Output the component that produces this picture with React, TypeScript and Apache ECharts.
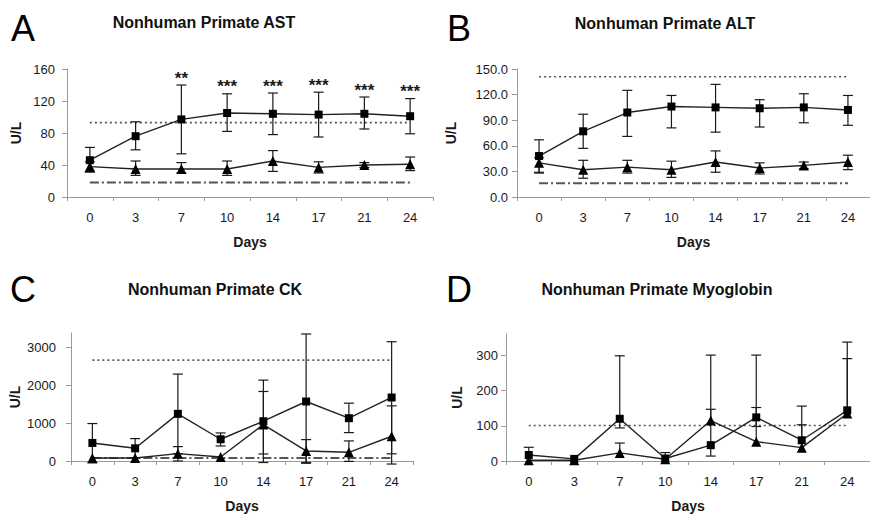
import React, { useEffect, useRef } from "react";
import * as echarts from "echarts";

// ---------- data ----------
const days = ["0", "3", "7", "10", "14", "17", "21", "24"];

// A: AST
const astSq = [46, 76, 97, 105, 104, 103, 104, 101];
const astSqHi = [62, 94, 140, 129, 130, 131, 125, 123];
const astSqLo = [31, 59, 54, 82, 78, 75, 85, 79];
const astTri = [38, 35, 35, 35, 45, 37, 40, 41];
const astTriHi = [44, 45, 43, 45, 58, 44, 43, 50];
const astTriLo = [32, 27, 30, 27, 32, 30, 37, 33];
const astStars = ["", "", "**", "***", "***", "***", "***", "***"];
const astRefHigh = 93;
const astRefLow = 18;

// B: ALT
const altSq = [48, 77, 99, 106, 105, 104, 105, 102];
const altSqHi = [67, 97, 125, 119, 132, 114, 121, 119];
const altSqLo = [29, 57, 71, 81, 76, 82, 87, 84];
const altTri = [40, 32, 35, 32, 41, 34, 37, 41];
const altTriHi = [46, 43, 43, 42, 54, 40, 41, 49];
const altTriLo = [28, 22, 28, 23, 29, 27, 33, 32];
const altRefHigh = 141;
const altRefLow = 16;

// C: CK
const ckSq = [477, 335, 1245, 574, 1050, 1571, 1130, 1677];
const ckSqHi = [989, 591, 2295, 741, 2136, 3354, 1527, 3150];
const ckSqLo = [-50, 80, 195, 397, -40, -60, 750, 190];
const ckTri = [80, 80, 194, 106, 962, 265, 230, 653];
const ckTriHi = [80, 80, 380, 106, 1836, 565, 530, 1456];
const ckTriLo = [80, 80, 0, 106, 185, -40, -10, -80];
const ckRefHigh = 2665;
const ckRefLow = 80;

// D: Myoglobin
const myoSq = [17, 6, 120, 7, 45, 124, 59, 144];
const myoSqHi = [39, 6, 299, 24, 147, 301, 156, 338];
const myoSqLo = [17, 6, 94, 7, 14, 98, 59, 144];
const myoTri = [2, 2, 23, 5, 115, 55, 38, 135];
const myoTriHi = [2, 2, 51, 5, 301, 152, 103, 291];
const myoTriLo = [2, 2, 23, 5, 115, 55, 38, 135];
const myoRefHigh = 101;

const FONT = "'Liberation Sans', Arial, Helvetica, sans-serif";
const INK = "#1a1a1a";
const AXIS = "#9a9a9a";

type Panel = {
  grid: { left: number; top: number; width: number; height: number };
  yMax: number;
  yInterval?: number;
  yCustom?: number[];
  yFmt?: (v: number) => string;
  labelMargin: number;
  nameGap: number;
  sq: number[];
  sqHi: number[];
  sqLo: number[];
  tri: number[];
  triHi: number[];
  triLo: number[];
  refHigh?: number;
  refLow?: number;
  stars?: string[];
};

const panels: Panel[] = [
  {
    grid: { left: 67, top: 69, width: 366, height: 128 },
    yMax: 160,
    yInterval: 40,
    labelMargin: 12,
    nameGap: 44,
    sq: astSq, sqHi: astSqHi, sqLo: astSqLo,
    tri: astTri, triHi: astTriHi, triLo: astTriLo,
    refHigh: astRefHigh, refLow: astRefLow, stars: astStars,
  },
  {
    grid: { left: 517, top: 69, width: 353, height: 128 },
    yMax: 150,
    yInterval: 30,
    yFmt: (v) => v.toFixed(1),
    labelMargin: 9,
    nameGap: 59,
    sq: altSq, sqHi: altSqHi, sqLo: altSqLo,
    tri: altTri, triHi: altTriHi, triLo: altTriLo,
    refHigh: altRefHigh, refLow: altRefLow,
  },
  {
    grid: { left: 71, top: 333, width: 342, height: 128 },
    yMax: 3380,
    yCustom: [0, 1000, 2000, 3000],
    labelMargin: 15,
    nameGap: 49,
    sq: ckSq, sqHi: ckSqHi, sqLo: ckSqLo,
    tri: ckTri, triHi: ckTriHi, triLo: ckTriLo,
    refHigh: ckRefHigh, refLow: ckRefLow,
  },
  {
    grid: { left: 506, top: 334, width: 364, height: 129 },
    yMax: 361,
    yCustom: [0, 100, 200, 300],
    labelMargin: 8,
    nameGap: 42,
    sq: myoSq, sqHi: myoSqHi, sqLo: myoSqLo,
    tri: myoTri, triHi: myoTriHi, triLo: myoTriLo,
    refHigh: myoRefHigh,
  },
];

const titles = [
  { letter: "A", lx: 23, ly: 28, text: "Nonhuman Primate AST", tx: 204, ty: 22 },
  { letter: "B", lx: 459, ly: 28, text: "Nonhuman Primate ALT", tx: 665, ty: 23 },
  { letter: "C", lx: 23, ly: 289, text: "Nonhuman Primate CK", tx: 215, ty: 289 },
  { letter: "D", lx: 459, ly: 289, text: "Nonhuman Primate Myoglobin", tx: 657, ty: 289 },
];

function errorSeries(pi: number, vals: number[], hi: number[], lo: number[], stars?: string[]) {
  return {
    type: "custom",
    xAxisIndex: pi,
    yAxisIndex: pi,
    z: 2,
    clip: false,
    silent: true,
    data: vals.map((v, i) => [i, v, lo[i], hi[i]]),
    renderItem: (params: any, api: any) => {
      const x = api.value(0);
      const v = api.value(1);
      const l = api.value(2);
      const h = api.value(3);
      const pv = api.coord([x, v]);
      const ph = api.coord([x, h]);
      const pl = api.coord([x, l]);
      const cap = 5;
      const st = { stroke: INK, lineWidth: 1.2 };
      const children: any[] = [];
      if (h > v) {
        children.push({ type: "line", shape: { x1: pv[0], y1: pv[1], x2: ph[0], y2: ph[1] }, style: st });
        children.push({ type: "line", shape: { x1: ph[0] - cap, y1: ph[1], x2: ph[0] + cap, y2: ph[1] }, style: st });
      }
      if (l < v) {
        children.push({ type: "line", shape: { x1: pv[0], y1: pv[1], x2: pl[0], y2: pl[1] }, style: st });
        children.push({ type: "line", shape: { x1: pl[0] - cap, y1: pl[1], x2: pl[0] + cap, y2: pl[1] }, style: st });
      }
      if (stars && stars[params.dataIndex]) {
        children.push({
          type: "text",
          x: ph[0],
          y: ph[1] - 7,
          style: {
            text: stars[params.dataIndex],
            font: `bold 17px ${FONT}`,
            fill: INK,
            textAlign: "center",
            textVerticalAlign: "middle",
          },
        });
      }
      return { type: "group", children };
    },
  };
}

function refSeries(pi: number, value: number, kind: "dot" | "dashdot") {
  return {
    type: "line",
    xAxisIndex: pi,
    yAxisIndex: pi,
    z: 1,
    silent: true,
    symbol: "none",
    data: days.map(() => value),
    lineStyle:
      kind === "dot"
        ? { color: "#555", width: 1.6, type: [2, 3] }
        : { color: "#555", width: 2, type: [9, 3, 2, 3] },
  };
}

function buildOption() {
  const grid: any[] = [];
  const xAxis: any[] = [];
  const yAxis: any[] = [];
  const series: any[] = [];
  panels.forEach((p, pi) => {
    grid.push({ ...p.grid, containLabel: false });
    xAxis.push({
      type: "category",
      gridIndex: pi,
      data: days,
      boundaryGap: true,
      name: "Days",
      nameLocation: "middle",
      nameGap: 38,
      nameTextStyle: { fontFamily: FONT, fontWeight: "bold", fontSize: 14, color: INK },
      axisLine: { show: true, lineStyle: { color: AXIS, width: 1 } },
      axisTick: { show: true, interval: 0, alignWithLabel: false, length: 4, lineStyle: { color: AXIS } },
      axisLabel: { interval: 0, margin: 14, fontFamily: FONT, fontSize: 13, color: INK },
      splitLine: { show: false },
    });
    const y: any = {
      type: "value",
      gridIndex: pi,
      min: 0,
      max: p.yMax,
      name: "U/L",
      nameLocation: "middle",
      nameRotate: 90,
      nameGap: p.nameGap,
      nameTextStyle: { fontFamily: FONT, fontWeight: "bold", fontSize: 14, color: INK },
      axisLine: { show: true, lineStyle: { color: AXIS, width: 1 } },
      axisTick: { show: true, length: 5, lineStyle: { color: AXIS } },
      axisLabel: {
        margin: p.labelMargin,
        fontFamily: FONT,
        fontSize: 13,
        color: INK,
        formatter: p.yFmt ? (v: number) => p.yFmt!(v) : (v: number) => String(v),
      },
      splitLine: { show: false },
    };
    if (p.yInterval) y.interval = p.yInterval;
    if (p.yCustom) {
      y.axisLabel.customValues = p.yCustom;
      y.axisTick.customValues = p.yCustom;
    }
    yAxis.push(y);

    if (p.refHigh !== undefined) series.push(refSeries(pi, p.refHigh, "dot"));
    if (p.refLow !== undefined) series.push(refSeries(pi, p.refLow, "dashdot"));
    series.push(errorSeries(pi, p.sq, p.sqHi, p.sqLo, p.stars));
    series.push(errorSeries(pi, p.tri, p.triHi, p.triLo));
    series.push({
      type: "line",
      xAxisIndex: pi,
      yAxisIndex: pi,
      z: 3,
      data: p.sq,
      symbol: "rect",
      symbolSize: 8,
      showAllSymbol: true,
      itemStyle: { color: "#000" },
      lineStyle: { color: "#222", width: 1.4 },
    });
    series.push({
      type: "line",
      xAxisIndex: pi,
      yAxisIndex: pi,
      z: 3,
      data: p.tri,
      symbol: "triangle",
      symbolSize: 10,
      showAllSymbol: true,
      itemStyle: { color: "#000" },
      lineStyle: { color: "#222", width: 1.4 },
    });
  });

  const graphic: any[] = [];
  titles.forEach((t) => {
    graphic.push({
      type: "text",
      x: t.lx,
      y: t.ly,
      style: { text: t.letter, font: `36px ${FONT}`, fill: "#000", textAlign: "center", textVerticalAlign: "middle" },
    });
    graphic.push({
      type: "text",
      x: t.tx,
      y: t.ty,
      style: { text: t.text, font: `bold 16px ${FONT}`, fill: "#111", textAlign: "center", textVerticalAlign: "middle" },
    });
  });

  return {
    animation: false,
    backgroundColor: "#ffffff",
    grid,
    xAxis,
    yAxis,
    series,
    graphic,
  };
}

export default function App() {
  const ref = useRef<HTMLDivElement>(null);
  useEffect(() => {
    if (!ref.current) return;
    const chart = echarts.init(ref.current, null, { renderer: "svg" });
    chart.setOption(buildOption() as any);
    return () => chart.dispose();
  }, []);
  return (
    <div
      ref={ref}
      style={{ position: "absolute", left: 0, top: 0, width: 870, height: 514, background: "#fff" }}
    />
  );
}
